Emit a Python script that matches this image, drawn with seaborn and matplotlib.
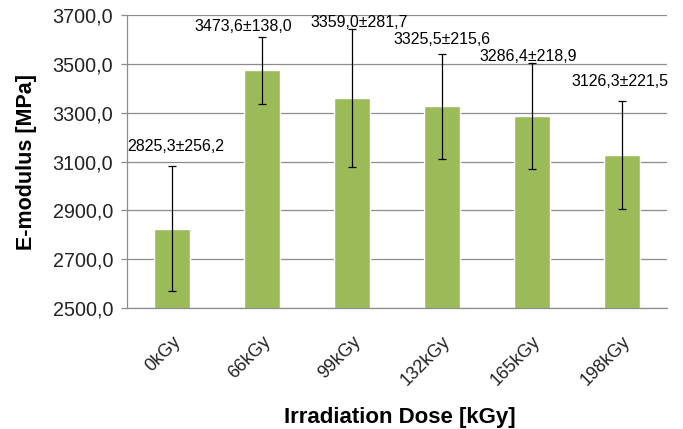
import matplotlib
matplotlib.use("Agg")
import matplotlib.pyplot as plt
import seaborn as sns
import pandas as pd

# data
doses = ["0kGy", "66kGy", "99kGy", "132kGy", "165kGy", "198kGy"]
modulus = [2825.3, 3473.6, 3359.0, 3325.5, 3286.4, 3126.3]
sd = [256.2, 138.0, 281.7, 215.6, 218.9, 221.5]
yticks = [2500, 2700, 2900, 3100, 3300, 3500, 3700]

# layout for value labels (pixel offsets: dx, dy above error bar top)
label_dx = [4, -19, 7, 0, -4, -2]
label_dy = [20, 10, 7, 14, 6, 19]

sns.set_theme(style="white")
plt.rcParams["font.family"] = ["Liberation Sans", "DejaVu Sans"]

fig = plt.figure(figsize=(6.83, 4.29), dpi=100)
ax = fig.add_axes([127 / 683, 1 - 308 / 429, (667 - 127) / 683, (308 - 15) / 429])

df = pd.DataFrame({"dose": doses, "modulus": modulus, "sd": sd})
sns.barplot(data=df, x="dose", y="modulus", color="#9BBB59", saturation=1,
            width=0.4, errorbar=None, ax=ax, zorder=2)
ax.errorbar(range(len(doses)), df["modulus"], yerr=df["sd"], fmt="none",
            ecolor="black", elinewidth=0.9, capsize=2.6, capthick=0.9, zorder=3)

for i, (m, s) in enumerate(zip(modulus, sd)):
    txt = f"{m:.1f}±{s:.1f}".replace(".", ",")
    ax.annotate(txt, xy=(i, m + s), xytext=(label_dx[i] * 0.72, label_dy[i] * 0.72),
                textcoords="offset points", ha="center", va="center",
                fontsize=11.5, color="black", zorder=4)

ax.set_ylim(2500, 3700)
ax.set_xlim(-0.5, len(doses) - 0.5)
ax.set_yticks(yticks)
ax.set_yticklabels([f"{v:.1f}".replace(".", ",") for v in yticks], fontsize=14.2, color="#222222")
ax.yaxis.grid(True, color="#8c8c8c", linewidth=0.9, zorder=0)
ax.set_axisbelow(True)
ax.tick_params(axis="y", which="major", left=True, length=4, width=0.9, color="#8c8c8c", pad=6)
ax.tick_params(axis="x", which="major", bottom=False, pad=12)
plt.setp(ax.get_xticklabels(), rotation=45, ha="right", rotation_mode="anchor", fontsize=13, color="#222222")

for sp in ["top", "right"]:
    ax.spines[sp].set_visible(False)
for sp in ["left", "bottom"]:
    ax.spines[sp].set_color("#8c8c8c")
    ax.spines[sp].set_linewidth(0.9)

ax.set_ylabel("E-modulus [MPa]", fontsize=15.5, fontweight="bold", color="black")
ax.yaxis.set_label_coords(-(127 - 37) / 540, 0.5)
ax.set_xlabel("")
fig.text(400 / 683, 1 - 417 / 429, "Irradiation Dose [kGy]", fontsize=16, fontweight="bold",
         color="black", ha="center", va="center")

fig.savefig("out.png", dpi=100, facecolor="white")
